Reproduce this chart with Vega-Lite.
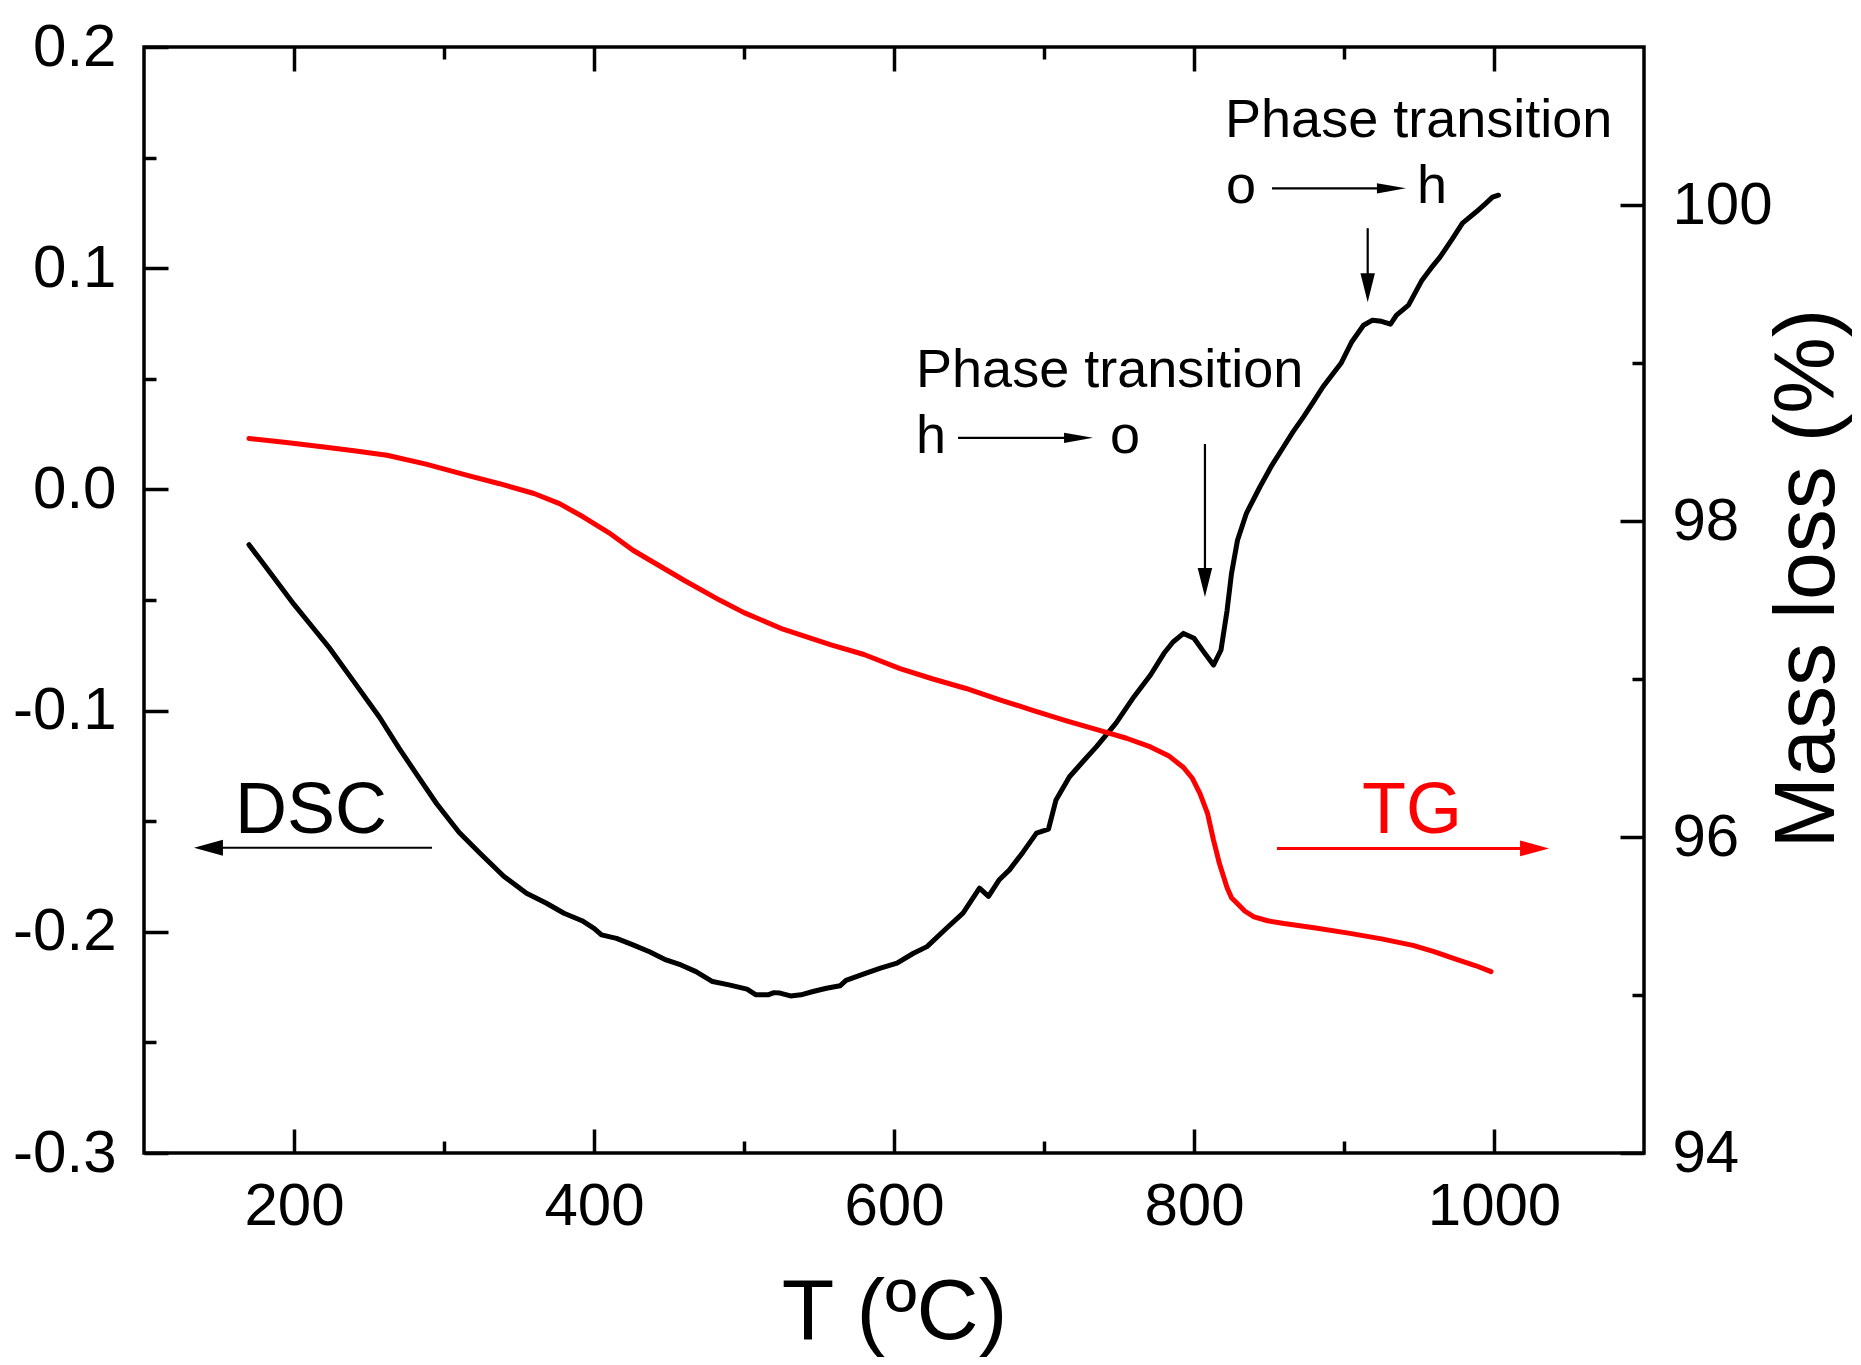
{
  "$schema": "https://vega.github.io/schema/vega-lite/v6.json",
  "width": 1500,
  "height": 1106,
  "autosize": {"type": "none"},
  "padding": {"left": 144, "top": 47, "right": 217, "bottom": 212},
  "background": "white",
  "config": {
    "view": {"stroke": "black", "strokeWidth": 3.5},
    "font": "Liberation Sans",
    "axis": {
      "grid": false,
      "domain": false,
      "tickColor": "black",
      "tickWidth": 3.5,
      "labelFont": "Liberation Sans",
      "labelFontSize": 60,
      "labelColor": "black",
      "labelFlush": false,
      "labelOverlap": false,
      "titleFont": "Liberation Sans",
      "titleFontSize": 86,
      "titleFontWeight": "normal",
      "titleColor": "black"
    }
  },
  "datasets": {
    "dsc": [
      {"T": 170, "v": -0.025}, {"T": 180, "v": -0.034}, {"T": 190, "v": -0.043}, {"T": 200, "v": -0.052},
      {"T": 212, "v": -0.062}, {"T": 224, "v": -0.072}, {"T": 240, "v": -0.087}, {"T": 257, "v": -0.103},
      {"T": 270, "v": -0.117}, {"T": 281, "v": -0.128}, {"T": 295, "v": -0.142}, {"T": 310, "v": -0.155},
      {"T": 324, "v": -0.1645}, {"T": 340, "v": -0.175}, {"T": 355, "v": -0.1826}, {"T": 368, "v": -0.187},
      {"T": 380, "v": -0.1916}, {"T": 392, "v": -0.195}, {"T": 400, "v": -0.1984}, {"T": 405, "v": -0.2014},
      {"T": 415, "v": -0.203}, {"T": 426, "v": -0.2059}, {"T": 437, "v": -0.209}, {"T": 448, "v": -0.2127},
      {"T": 458, "v": -0.215}, {"T": 468, "v": -0.218}, {"T": 479, "v": -0.2225}, {"T": 490, "v": -0.224},
      {"T": 502, "v": -0.2259}, {"T": 508, "v": -0.2285}, {"T": 516, "v": -0.2285}, {"T": 520, "v": -0.2275},
      {"T": 524, "v": -0.2277}, {"T": 531, "v": -0.229}, {"T": 538, "v": -0.2285}, {"T": 546, "v": -0.227},
      {"T": 555, "v": -0.2255}, {"T": 564, "v": -0.2244}, {"T": 568, "v": -0.222}, {"T": 580, "v": -0.219},
      {"T": 591, "v": -0.2164}, {"T": 602, "v": -0.2142}, {"T": 613, "v": -0.2097}, {"T": 622, "v": -0.2067},
      {"T": 635, "v": -0.1984}, {"T": 646, "v": -0.1916}, {"T": 657, "v": -0.1803}, {"T": 663, "v": -0.184},
      {"T": 670, "v": -0.1766}, {"T": 677, "v": -0.172}, {"T": 686, "v": -0.164}, {"T": 695, "v": -0.1554},
      {"T": 703, "v": -0.1536}, {"T": 708, "v": -0.1404}, {"T": 717, "v": -0.1299}, {"T": 726, "v": -0.123},
      {"T": 735, "v": -0.1163}, {"T": 748, "v": -0.1057}, {"T": 760, "v": -0.0937}, {"T": 771, "v": -0.0839},
      {"T": 780, "v": -0.0741}, {"T": 786, "v": -0.069}, {"T": 793, "v": -0.0651}, {"T": 800, "v": -0.0673},
      {"T": 806, "v": -0.073}, {"T": 813, "v": -0.0794}, {"T": 818, "v": -0.0726}, {"T": 822, "v": -0.055},
      {"T": 825, "v": -0.038}, {"T": 829, "v": -0.023}, {"T": 835, "v": -0.0107}, {"T": 844, "v": 0.0012},
      {"T": 852, "v": 0.011}, {"T": 859, "v": 0.0185}, {"T": 866, "v": 0.026}, {"T": 873, "v": 0.0328},
      {"T": 880, "v": 0.04}, {"T": 886, "v": 0.0464}, {"T": 898, "v": 0.057}, {"T": 905, "v": 0.0665},
      {"T": 913, "v": 0.0742}, {"T": 919, "v": 0.0765}, {"T": 925, "v": 0.076}, {"T": 931, "v": 0.0747},
      {"T": 935, "v": 0.0788}, {"T": 943, "v": 0.0833}, {"T": 952, "v": 0.0946}, {"T": 958, "v": 0.1},
      {"T": 964, "v": 0.105}, {"T": 972, "v": 0.113}, {"T": 979, "v": 0.1204}, {"T": 988, "v": 0.1254},
      {"T": 994, "v": 0.129}, {"T": 999, "v": 0.1321}, {"T": 1003, "v": 0.133}
    ],
    "tg": [
      {"T": 170, "m": 98.522}, {"T": 195, "m": 98.497}, {"T": 220, "m": 98.468}, {"T": 240, "m": 98.445},
      {"T": 262, "m": 98.416}, {"T": 288, "m": 98.36}, {"T": 315, "m": 98.29}, {"T": 337, "m": 98.236},
      {"T": 360, "m": 98.174}, {"T": 377, "m": 98.11}, {"T": 393, "m": 98.025}, {"T": 410, "m": 97.925},
      {"T": 426, "m": 97.815}, {"T": 443, "m": 97.72}, {"T": 460, "m": 97.625}, {"T": 484, "m": 97.498},
      {"T": 500, "m": 97.42}, {"T": 526, "m": 97.315}, {"T": 558, "m": 97.216}, {"T": 580, "m": 97.155},
      {"T": 604, "m": 97.066}, {"T": 626, "m": 97.0}, {"T": 648, "m": 96.94}, {"T": 670, "m": 96.87},
      {"T": 693, "m": 96.8}, {"T": 715, "m": 96.735}, {"T": 737, "m": 96.675}, {"T": 755, "m": 96.625},
      {"T": 771, "m": 96.57}, {"T": 783, "m": 96.515}, {"T": 793, "m": 96.44}, {"T": 799, "m": 96.37},
      {"T": 804, "m": 96.275}, {"T": 809, "m": 96.15}, {"T": 813, "m": 95.98}, {"T": 817, "m": 95.83},
      {"T": 822, "m": 95.68}, {"T": 825, "m": 95.615}, {"T": 829, "m": 95.578}, {"T": 834, "m": 95.53},
      {"T": 840, "m": 95.494}, {"T": 849, "m": 95.47}, {"T": 860, "m": 95.452}, {"T": 880, "m": 95.425},
      {"T": 904, "m": 95.39}, {"T": 925, "m": 95.355}, {"T": 946, "m": 95.314}, {"T": 960, "m": 95.275},
      {"T": 975, "m": 95.225}, {"T": 988, "m": 95.185}, {"T": 998, "m": 95.148}
    ],
    "dscArrows": [
      {"T": 292, "T2": 145, "v": -0.162, "v2": -0.162},
      {"T": 852, "T2": 930, "v": 0.1361, "v2": 0.1361},
      {"T": 915.8, "T2": 915.8, "v": 0.1181, "v2": 0.095},
      {"T": 642.7, "T2": 722, "v": 0.0233, "v2": 0.0233},
      {"T": 807.3, "T2": 807.3, "v": 0.0205, "v2": -0.038}
    ],
    "dscHeads": [
      {"T": 133.3, "v": -0.162, "dir": "left"},
      {"T": 941.3, "v": 0.1361, "dir": "right"},
      {"T": 915.8, "v": 0.0846, "dir": "down"},
      {"T": 732.7, "v": 0.0233, "dir": "right"},
      {"T": 807.3, "v": -0.0487, "dir": "down"}
    ],
    "dscNotes": [
      {"T": 820.7, "v": 0.1592, "label": "Phase transition"},
      {"T": 821.3, "v": 0.1293, "label": "o"},
      {"T": 948.7, "v": 0.1293, "label": "h"},
      {"T": 614.7, "v": 0.0462, "label": "Phase transition"},
      {"T": 614.7, "v": 0.0164, "label": "h"},
      {"T": 744, "v": 0.0164, "label": "o"}
    ],
    "dscTag": [{"T": 160.7, "v": -0.1553, "label": "DSC"}],
    "tgArrow": [{"T": 855.3, "T2": 1030, "m": 95.928}],
    "tgHead": [{"T": 1036.7, "m": 95.928}],
    "tgTag": [{"T": 912, "m": 96.023, "label": "TG"}]
  },
  "layer": [
    {
      "layer": [
        {
          "data": {"name": "dsc"},
          "mark": {"type": "line", "color": "black", "strokeWidth": 5, "strokeCap": "round", "strokeJoin": "round"},
          "encoding": {
            "x": {
              "field": "T", "type": "quantitative",
              "scale": {"domain": [100, 1100], "nice": false, "zero": false},
              "axis": {
                "orient": "bottom",
                "values": [200, 400, 600, 800, 1000],
                "labelExpr": "format(datum.value, 'd')",
                "offset": -24,
                "tickSize": 24,
                "labelPadding": 24,
                "title": "T (ºC)",
                "titlePadding": 34
              }
            },
            "y": {
              "field": "v", "type": "quantitative",
              "scale": {"domain": [-0.3, 0.2], "nice": false, "zero": false},
              "axis": {
                "orient": "left",
                "values": [-0.3, -0.2, -0.1, 0, 0.1, 0.2],
                "labelExpr": "(datum.value < -0.001 ? '-' : '') + format(abs(datum.value), '.1f')",
                "offset": -24,
                "tickSize": 24,
                "labelPadding": 28,
                "title": null
              }
            }
          }
        },
        {
          "data": {"name": "dscArrows"},
          "mark": {"type": "rule", "color": "black", "strokeWidth": 2.2},
          "encoding": {
            "x": {"field": "T", "type": "quantitative"},
            "x2": {"field": "T2"},
            "y": {"field": "v", "type": "quantitative"},
            "y2": {"field": "v2"}
          }
        },
        {
          "data": {"name": "dscHeads"},
          "mark": {"type": "point", "filled": true, "color": "black", "opacity": 1, "size": 841, "strokeWidth": 0},
          "encoding": {
            "x": {"field": "T", "type": "quantitative"},
            "y": {"field": "v", "type": "quantitative"},
            "shape": {
              "field": "dir", "type": "nominal", "legend": null,
              "scale": {
                "domain": ["left", "right", "down"],
                "range": ["M2,-0.55L0,0L2,0.55Z", "M-2,-0.36L0,0L-2,0.36Z", "M-0.5,-2L0,0L0.5,-2Z"]
              }
            }
          }
        },
        {
          "data": {"name": "dscNotes"},
          "mark": {"type": "text", "align": "left", "baseline": "alphabetic", "fontSize": 54, "font": "Liberation Sans", "color": "black"},
          "encoding": {
            "x": {"field": "T", "type": "quantitative"},
            "y": {"field": "v", "type": "quantitative"},
            "text": {"field": "label"}
          }
        },
        {
          "data": {"name": "dscTag"},
          "mark": {"type": "text", "align": "left", "baseline": "alphabetic", "fontSize": 72, "font": "Liberation Sans", "color": "black"},
          "encoding": {
            "x": {"field": "T", "type": "quantitative"},
            "y": {"field": "v", "type": "quantitative"},
            "text": {"field": "label"}
          }
        }
      ]
    },
    {
      "layer": [
        {
          "data": {"name": "tg"},
          "mark": {"type": "line", "color": "#ff0000", "strokeWidth": 5, "strokeCap": "round", "strokeJoin": "round"},
          "encoding": {
            "x": {
              "field": "T", "type": "quantitative",
              "scale": {"domain": [100, 1100], "nice": false, "zero": false},
              "axis": {
                "orient": "top",
                "values": [200, 400, 600, 800, 1000],
                "labels": false,
                "offset": -24,
                "tickSize": 24,
                "title": null
              }
            },
            "y": {
              "field": "m", "type": "quantitative",
              "scale": {"domain": [94, 101], "nice": false, "zero": false},
              "axis": {
                "orient": "right",
                "values": [94, 96, 98, 100],
                "labelExpr": "format(datum.value, 'd')",
                "offset": -24,
                "tickSize": 24,
                "labelPadding": 28,
                "title": "Mass loss (%)",
                "titleAngle": 270,
                "titleBaseline": "top",
                "titlePadding": -7,
                "titleY": 531
              }
            }
          }
        },
        {
          "data": {"name": "tgArrow"},
          "mark": {"type": "rule", "color": "#ff0000", "strokeWidth": 3},
          "encoding": {
            "x": {"field": "T", "type": "quantitative"},
            "x2": {"field": "T2"},
            "y": {"field": "m", "type": "quantitative"}
          }
        },
        {
          "data": {"name": "tgHead"},
          "mark": {"type": "point", "filled": true, "color": "#ff0000", "opacity": 1, "size": 841, "strokeWidth": 0, "shape": "M-2,-0.55L0,0L-2,0.55Z"},
          "encoding": {
            "x": {"field": "T", "type": "quantitative"},
            "y": {"field": "m", "type": "quantitative"}
          }
        },
        {
          "data": {"name": "tgTag"},
          "mark": {"type": "text", "align": "left", "baseline": "alphabetic", "fontSize": 72, "font": "Liberation Sans", "color": "#ff0000"},
          "encoding": {
            "x": {"field": "T", "type": "quantitative"},
            "y": {"field": "m", "type": "quantitative"},
            "text": {"field": "label"}
          }
        }
      ]
    },
    {
      "data": {"name": "dsc"},
      "mark": {"type": "point", "opacity": 0},
      "encoding": {
        "x": {
          "field": "T", "type": "quantitative",
          "axis": {"orient": "bottom", "values": [300, 500, 700, 900], "labels": false, "offset": -12, "tickSize": 12, "title": null}
        },
        "y": {
          "field": "v", "type": "quantitative",
          "scale": {"domain": [-0.3, 0.2], "nice": false, "zero": false},
          "axis": {"orient": "left", "values": [-0.25, -0.15, -0.05, 0.05, 0.15], "labels": false, "offset": -12, "tickSize": 12, "title": null}
        }
      }
    },
    {
      "data": {"name": "tg"},
      "mark": {"type": "point", "opacity": 0},
      "encoding": {
        "x": {
          "field": "T", "type": "quantitative",
          "axis": {"orient": "top", "values": [300, 500, 700, 900], "labels": false, "offset": -12, "tickSize": 12, "title": null}
        },
        "y": {
          "field": "m", "type": "quantitative",
          "scale": {"domain": [94, 101], "nice": false, "zero": false},
          "axis": {"orient": "right", "values": [95, 97, 99], "labels": false, "offset": -12, "tickSize": 12, "title": null}
        }
      }
    }
  ],
  "resolve": {"scale": {"y": "independent"}, "axis": {"x": "independent", "y": "independent"}}
}
